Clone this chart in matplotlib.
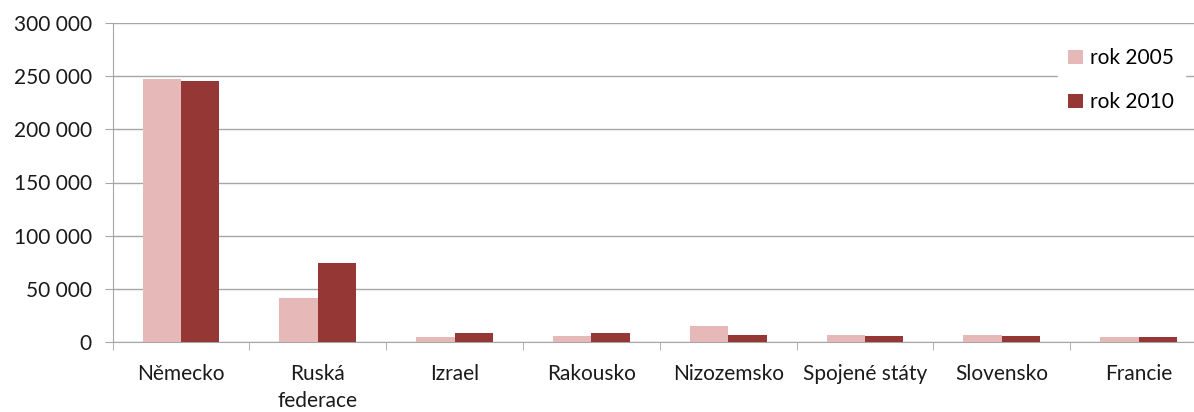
import matplotlib.pyplot as plt
import numpy as np

# Data
countries = ['Německo', 'Ruská\nfederace', 'Izrael', 'Rakousko', 'Nizozemsko',
             'Spojené státy', 'Slovensko', 'Francie']
rok_2005 = [247000, 41500, 4400, 5600, 15300, 6900, 6900, 4400]
rok_2010 = [245000, 74500, 8400, 8400, 6900, 5600, 5600, 4400]
yticks = [0, 50000, 100000, 150000, 200000, 250000, 300000]

plt.rcParams['font.family'] = ['Lato', 'DejaVu Sans']

fig = plt.figure(figsize=(11.94, 4.12), dpi=100)
# axes runs a little past the right edge, like the cropped original
ax = fig.add_axes([112.6 / 1194, 1 - 342 / 412, 1094.4 / 1194, (342 - 23) / 412])

x = np.arange(len(countries))
w = 0.28
ax.bar(x - w / 2, rok_2005, w, color='#E6B9B8', label='rok 2005', zorder=3)
ax.bar(x + w / 2, rok_2010, w, color='#953735', label='rok 2010', zorder=3)

ax.set_xlim(-0.5, len(countries) - 0.5)
ax.set_ylim(0, 300000)
ax.set_yticks(yticks)
ax.set_yticklabels([f'{v:,}'.replace(',', ' ') for v in yticks])
ax.set_xticks(x)
ax.set_xticklabels(countries, linespacing=1.4)
ax.set_xticks(np.arange(-0.5, len(countries)), minor=True)

ax.grid(axis='y', color='#A6A6A6', linewidth=1, zorder=0)
for s in ['top', 'right']:
    ax.spines[s].set_visible(False)
for s in ['left', 'bottom']:
    ax.spines[s].set_color('#A6A6A6')
ax.tick_params(axis='x', which='major', length=0, pad=16, labelsize=15, labelcolor='#1a1a1a')
ax.tick_params(axis='x', which='minor', length=6, color='#A6A6A6')
ax.tick_params(axis='y', length=6, color='#A6A6A6', labelsize=15, labelcolor='#1a1a1a', pad=9)

leg = ax.legend(loc='upper left', bbox_to_anchor=(1058 / 1194, 1 - 38 / 412),
                bbox_transform=fig.transFigure, frameon=True, fontsize=15,
                handlelength=0.7, handleheight=0.7, handletextpad=0.35,
                labelspacing=1.15, borderpad=0.5, borderaxespad=0)
leg.get_frame().set_facecolor('white')
leg.get_frame().set_edgecolor('white')
leg.get_frame().set_alpha(1)
leg.get_frame().set_boxstyle('square', pad=0)

fig.savefig('out.png', dpi=100)
